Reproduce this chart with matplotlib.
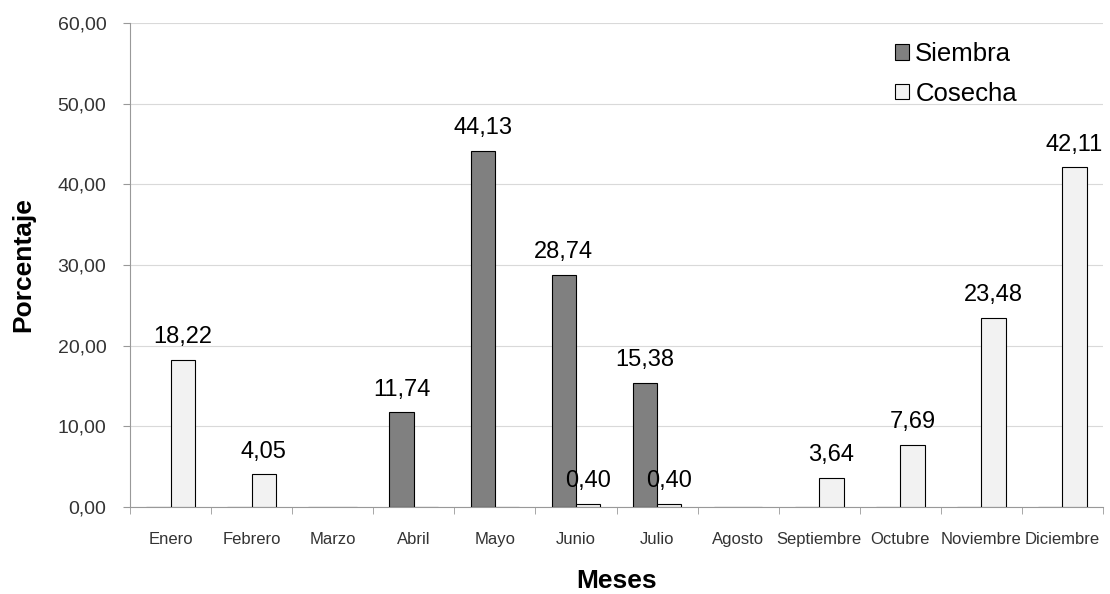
import numpy as np
import matplotlib
matplotlib.use("Agg")
from matplotlib import pyplot as plt

meses = ['Enero', 'Febrero', 'Marzo', 'Abril', 'Mayo', 'Junio', 'Julio',
         'Agosto', 'Septiembre', 'Octubre', 'Noviembre', 'Diciembre']
siembra = [0, 0, 0, 11.74, 44.13, 28.74, 15.38, 0, 0, 0, 0, 0]
cosecha = [18.22, 4.05, 0, 0, 0, 0.40, 0.40, 0, 3.64, 7.69, 23.48, 42.11]
yticks = [0, 10, 20, 30, 40, 50, 60]

plt.rcParams['font.family'] = ['Liberation Sans', 'DejaVu Sans']


def fmt(v):
    return ('%.2f' % v).replace('.', ',')


fig = plt.figure(figsize=(11.1, 5.94), dpi=100)
ax = fig.add_axes([130 / 1110, 87 / 594, 973 / 1110, 484 / 594])

x = np.arange(len(meses))
w = 0.3
b1 = ax.bar(x - w / 2, siembra, w, color='#808080', edgecolor='black', linewidth=0.8,
            label='Siembra', zorder=3)
b2 = ax.bar(x + w / 2, cosecha, w, color='#f2f2f2', edgecolor='black', linewidth=0.8,
            label='Cosecha', zorder=3)

# value labels, skip the zeros
for bars, vals in ((b1, siembra), (b2, cosecha)):
    for bar, v in zip(bars, vals):
        if v > 0:
            ax.annotate(fmt(v), (bar.get_x() + bar.get_width() / 2, v),
                        xytext=(0, 12), textcoords='offset points',
                        ha='center', va='baseline', fontsize=17, zorder=4)

ax.set_xlim(-0.5, len(meses) - 0.5)
ax.set_ylim(0, 60)
ax.set_yticks(yticks)
ax.set_yticklabels([fmt(t) for t in yticks], fontsize=14, color='#333333')
ax.yaxis.grid(True, color='#d9d9d9', linewidth=0.8, zorder=0)

ax.set_xticks(x)
ax.set_xticklabels(meses, fontsize=12, color='#333333')
ax.set_xticks(np.arange(-0.5, len(meses)), minor=True)
ax.tick_params(axis='x', which='major', length=0, pad=18)
ax.tick_params(axis='x', which='minor', length=5, color='#999999', direction='out')
ax.tick_params(axis='y', length=5, color='#999999', direction='out', pad=12)

for s in ('top', 'right'):
    ax.spines[s].set_visible(False)
ax.spines['left'].set_color('#999999')
ax.spines['bottom'].set_color('#999999')

ax.set_ylabel('Porcentaje', fontsize=19, fontweight='bold', labelpad=16)
ax.set_xlabel('Meses', fontsize=19, fontweight='bold', labelpad=16)

leg = ax.legend(loc='upper left', bbox_to_anchor=(895 / 1110, 1 - 42 / 594),
                bbox_transform=fig.transFigure, frameon=False, borderpad=0,
                borderaxespad=0, fontsize=18.5, handlelength=0.54, handleheight=0.54,
                handletextpad=0.25, labelspacing=0.62)

fig.savefig('out.png', dpi=100)
